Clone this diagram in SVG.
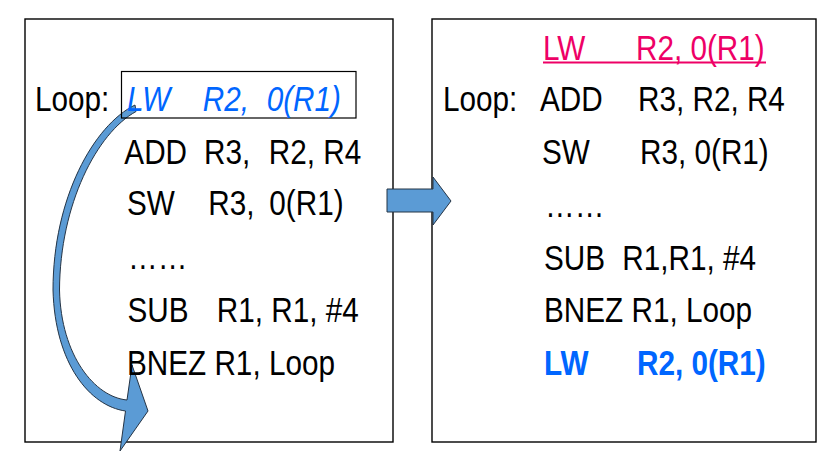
<svg xmlns="http://www.w3.org/2000/svg" width="840" height="461" viewBox="0 0 840 461">
<style>
.box{fill:#fff;stroke:#000;stroke-width:1.4}
.hl{fill:none;stroke:#000;stroke-width:1.2}
.arr{fill:#5B9BD5;stroke:#253445;stroke-width:1}
text{font-family:"Liberation Sans",Arial,sans-serif;font-size:36px;fill:#000}
.it{font-style:italic;fill:#0066FF}
.bb{font-weight:bold;fill:#0066FF}
.pk{fill:#EE0066}
</style>
<rect width="840" height="461" fill="#fff"/>
<g id="left-box"><rect class="box" x="25" y="19" width="368" height="423"/></g>
<g id="right-box"><rect class="box" x="432" y="19" width="384" height="423"/></g>
<g id="connectors">
<path id="loop-arrow" class="arr" d="M135,105 C94,125 53,198 53,290 C55,364 90,406 125.5,411 L120,451 L148,411 L132,365 L127,400 C95,397 61,356 59.5,290 C60,204 97,133 136,111.5 Z"/>
<polygon id="transform-arrow" class="arr" points="387,189 433,189 433,177 451,201 433,225 433,212 387,212"/>
</g>
<g id="highlight"><rect class="hl" x="121.5" y="71.5" width="234.5" height="46.5"/></g>
<g id="left-code" transform="scale(0.825 1)">
<text x="42.4" y="111">Loop:</text>
<text class="it" x="153.9" y="111">LW</text>
<text class="it" x="245.7" y="111">R2,</text>
<text class="it" x="323.2" y="111">0(R1)</text>
<text x="150.7" y="164">ADD</text>
<text x="247.3" y="164">R3,</text>
<text x="325.7" y="164">R2,</text>
<text x="391.9" y="164">R4</text>
<text x="153.9" y="215">SW</text>
<text x="252.5" y="215">R3,</text>
<text x="326.4" y="215">0(R1)</text>
<text x="155.2" y="269">……</text>
<text x="154.5" y="322">SUB</text>
<text x="262.7" y="322">R1, R1, #4</text>
<text x="153.9" y="375.5">BNEZ R1, Loop</text>
</g>
<g id="right-code">
<line x1="543" y1="62.5" x2="766" y2="62.5" stroke="#EE0066" stroke-width="2"/>
<g transform="scale(0.825 1)">
<text class="pk" x="658.2" y="60">LW</text>
<text class="pk" x="770.9" y="60">R2, 0(R1)</text>
<text x="537" y="111">Loop:</text>
<text x="654.5" y="111">ADD</text>
<text x="773.3" y="111">R3, R2, R4</text>
<text x="657" y="164">SW</text>
<text x="775.8" y="164">R3, 0(R1)</text>
<text x="660.6" y="217">……</text>
<text x="659.4" y="270">SUB</text>
<text x="754.3" y="270">R1,R1, #4</text>
<text x="659.4" y="322">BNEZ R1, Loop</text>
<text class="bb" x="659.4" y="375.5">LW</text>
<text class="bb" x="772.1" y="375.5">R2, 0(R1)</text>
</g>
</g>
</svg>
